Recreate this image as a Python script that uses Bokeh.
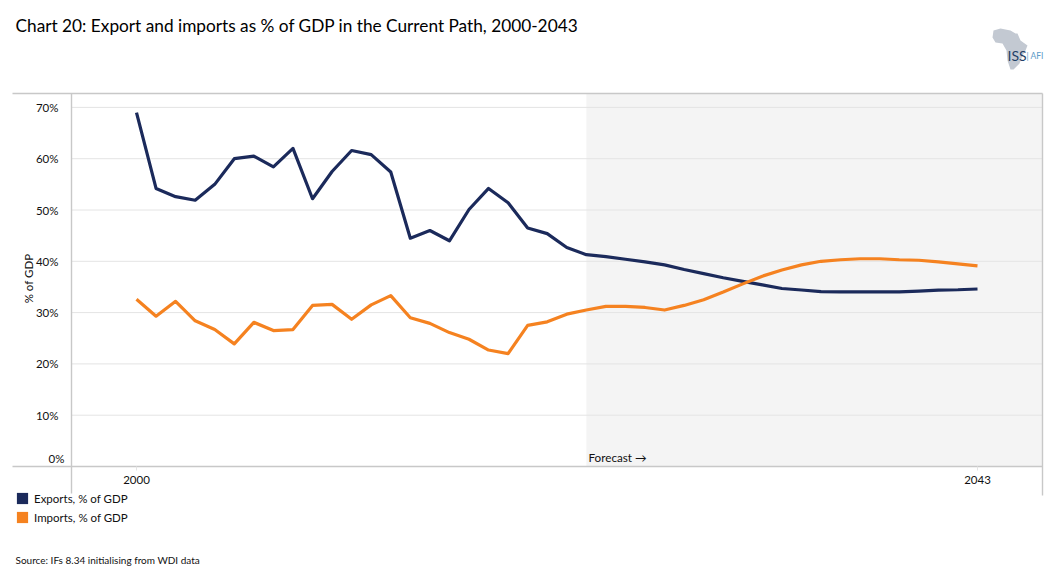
from bokeh.plotting import figure
from bokeh.embed import file_html
from bokeh.resources import INLINE
from bokeh.models import (LinearAxis, FixedTicker, Range1d, BoxAnnotation, PolyAnnotation, Label,
                          Legend, LegendItem)

FONT = "Lato"
NAN = float("nan")
years = list(range(2000, 2044))
exports = [69.0, 54.2, 52.6, 51.9, 55.0, 60.0, 60.5, 58.4, 62.0, 52.2, 57.5, 61.6, 60.8, 57.4, 44.5,
           46.0, 44.0, 50.1, 54.2, 51.4, 46.5, 45.4, 42.7, 41.3, 40.9, 40.4, 39.9, 39.3, 38.4, 37.6,
           36.8, 36.1, 35.4, 34.7, 34.4, 34.1, 34.05, 34.05, 34.05, 34.05, 34.2, 34.4, 34.45, 34.6]
imports = [32.6, 29.3, 32.2, 28.4, 26.7, 23.9, 28.1, 26.5, 26.7, 31.4, 31.6, 28.7, 31.5, 33.3, 29.0,
           27.9, 26.1, 24.8, 22.7, 22.0, 27.5, 28.2, 29.7, 30.5, 31.2, 31.2, 31.0, 30.5, 31.4, 32.5,
           34.0, 35.6, 37.1, 38.3, 39.3, 40.0, 40.3, 40.5, 40.5, 40.3, 40.2, 39.9, 39.5, 39.1]
y_ticks = [0, 10, 20, 30, 40, 50, 60, 70]
x_ticks = [2000, 2043]
forecast_start = 2023
africa_x = [993, 1000, 1010, 1015, 1017, 1020, 1027, 1025, 1022, 1019, 1013, 1010, 1007, 1006, 1002, 995, 992]
africa_y = [30, 28, 30, 33, 33, 40, 45, 50, 55, 63, 69, 69, 60, 50, 43, 42, 37]

W, H = 1050, 580
# The frame fills the canvas, so that notes outside the plot area are not clipped.
PX_YEAR = (977 - 136) / 43
PX_PCT = 5.13
x0, x1 = 2000 - 136 / PX_YEAR, 2000 + (W - 136) / PX_YEAR
y0, y1 = -(H - 466) / PX_PCT, 466 / PX_PCT
plot_left, plot_right = 2000 - 65 / PX_YEAR, 2043 + 65 / PX_YEAR
plot_top = 373 / PX_PCT

p = figure(width=W, height=H, output_backend="svg", toolbar_location=None,
           x_range=Range1d(x0, x1), y_range=Range1d(y0, y1),
           min_border_left=0, min_border_top=0, min_border_right=0, min_border_bottom=0,
           x_axis_type=None, y_axis_type=None, outline_line_color=None, background_fill_color="white")

def box(l, r, t, b, color):
    p.add_layout(BoxAnnotation(left=l, right=r, top=H - t, bottom=H - b,
                               left_units="screen", right_units="screen", top_units="screen", bottom_units="screen",
                               fill_color=color, fill_alpha=1, line_color=None, level="underlay"))
def text(x, y, s, size, color="#111111", align="left", angle=0, style="normal", baseline="middle"):
    p.add_layout(Label(x=x, y=H - y, x_units="screen", y_units="screen", text=s,
                       text_font=FONT, text_font_size=size, text_color=color, text_align=align,
                       text_baseline=baseline, angle=angle, text_font_style=style))

p.quad(left=[forecast_start], right=[plot_right], bottom=[0], top=[plot_top],
       fill_color="#f4f4f4", line_color=None, level="underlay")
p.segment(x0=[plot_left] * 7, x1=[plot_right] * 7, y0=y_ticks[1:], y1=y_ticks[1:],
          line_color="#e4e4e4", line_width=1, level="underlay")

yax = LinearAxis(fixed_location=plot_left, ticker=FixedTicker(ticks=y_ticks), axis_line_color=None,
                 major_tick_line_color=None, minor_tick_line_color=None, major_label_text_font=FONT,
                 major_label_text_font_size="11.5px", major_label_text_color="#111111", major_label_standoff=7,
                 major_label_overrides={0: " "} | {v: f"{v}%" for v in y_ticks[1:]})
p.add_layout(yax, "left")
xax = LinearAxis(fixed_location=0, ticker=FixedTicker(ticks=x_ticks), axis_line_color=None,
                 major_tick_line_color="#e4e4e4", major_tick_in=0, major_tick_out=4, minor_tick_line_color=None,
                 major_label_text_font=FONT, major_label_text_font_size="11.5px", major_label_text_color="#111111",
                 major_label_standoff=5)
p.add_layout(xax, "below")

box(12, 1042, 92.3, 93.7, "#c8c8c8")
box(12, 1042, 465.3, 466.7, "#c8c8c8")
box(70.3, 71.7, 93, 493, "#c8c8c8")
box(1041.3, 1042.7, 93, 495, "#c8c8c8")

p.line(years, exports, line_color="#1b2a5b", line_width=3.2, line_join="round", line_cap="butt")
p.line(years, imports, line_color="#f58220", line_width=3.2, line_join="round", line_cap="butt")

sw_e = p.quad(left=[NAN], right=[NAN], top=[NAN], bottom=[NAN], fill_color="#1b2a5b", line_color=None)
sw_i = p.quad(left=[NAN], right=[NAN], top=[NAN], bottom=[NAN], fill_color="#f58220", line_color=None)
legend = Legend(items=[LegendItem(label="Exports, % of GDP", renderers=[sw_e]),
                       LegendItem(label="Imports, % of GDP", renderers=[sw_i])],
                location=(15, H - 524), orientation="vertical", border_line_color=None, background_fill_alpha=0,
                glyph_width=14, glyph_height=14, label_height=14, spacing=5, padding=0, margin=0, label_standoff=5,
                label_text_font=FONT, label_text_font_size="11.5px", label_text_color="#111111")
p.add_layout(legend, "center")

text(15, 25, "Chart 20: Export and imports as % of GDP in the Current Path, 2000-2043", "17.25px", color="#000000")
text(48, 458, "0%", "11.5px")
text(28, 278, "% of GDP", "11.5px", align="center", angle=1.5708)
text(588, 456, "Forecast →", "11.7px")
text(15, 559, "Source: IFs 8.34 initialising from WDI data", "10px")

p.add_layout(PolyAnnotation(xs=africa_x, ys=[H - v for v in africa_y], xs_units="screen", ys_units="screen",
                            fill_color="#c3c9d2", fill_alpha=1, line_color=None))
text(1007, 55, "ISS", "14px", color="#1f3f66")
text(1026, 55, "| AFI", "8.5px", color="#5b9bc8")

open("out.html", "w").write(file_html(p, INLINE))
